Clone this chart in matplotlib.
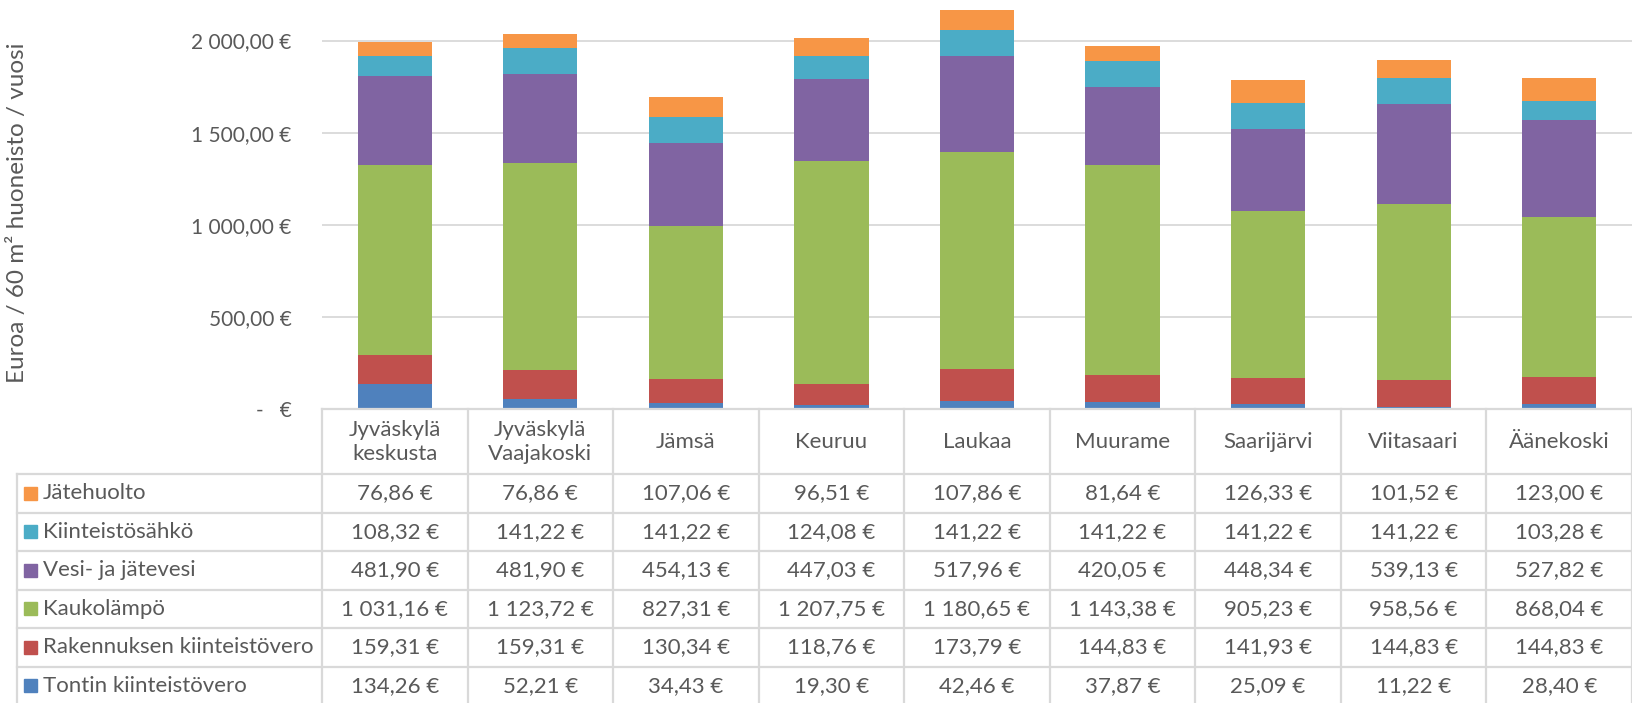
import matplotlib
matplotlib.use("Agg")
import matplotlib.pyplot as plt
from matplotlib.patches import Rectangle

plt.rcParams['font.family'] = ['Lato', 'DejaVu Sans']

categories = ["Jyväskylä\nkeskusta", "Jyväskylä\nVaajakoski", "Jämsä", "Keuruu", "Laukaa",
              "Muurame", "Saarijärvi", "Viitasaari", "Äänekoski"]
tontin = [134.26, 52.21, 34.43, 19.30, 42.46, 37.87, 25.09, 11.22, 28.40]
rakennuksen = [159.31, 159.31, 130.34, 118.76, 173.79, 144.83, 141.93, 144.83, 144.83]
kaukolampo = [1031.16, 1123.72, 827.31, 1207.75, 1180.65, 1143.38, 905.23, 958.56, 868.04]
vesi = [481.90, 481.90, 454.13, 447.03, 517.96, 420.05, 448.34, 539.13, 527.82]
sahko = [108.32, 141.22, 141.22, 124.08, 141.22, 141.22, 141.22, 141.22, 103.28]
jate = [76.86, 76.86, 107.06, 96.51, 107.86, 81.64, 126.33, 101.52, 123.00]

series_names = ["Tontin kiinteistövero", "Rakennuksen kiinteistövero", "Kaukolämpö",
                "Vesi- ja jätevesi", "Kiinteistösähkö", "Jätehuolto"]
series_vals = [tontin, rakennuksen, kaukolampo, vesi, sahko, jate]
colors = ["#4F81BD", "#C0504D", "#9BBB59", "#8064A2", "#4BACC6", "#F79646"]
yticks = [0, 500, 1000, 1500, 2000]
ytick_labels = ["-   €", "500,00 €", "1 000,00 €", "1 500,00 €", "2 000,00 €"]
ylabel = "Euroa / 60 m² huoneisto / vuosi"

TXT = "#595959"
GRID = "#D9D9D9"


def fmt(v):
    s = f"{v:,.2f}"
    s = s.replace(",", " ").replace(".", ",")
    return s + " €"


W, H = 1633, 703
fig = plt.figure(figsize=(W / 100, H / 100), dpi=100)

x0, x1 = 322, 1632
y_zero = 409
ax = fig.add_axes([x0 / W, (H - y_zero) / H, (x1 - x0) / W, y_zero / H])
n = len(categories)
xs = list(range(n))
bottom = [0.0] * n
for vals, c in zip(series_vals, colors):
    ax.bar(xs, vals, bottom=bottom, width=0.51, color=c, edgecolor="none", zorder=3)
    bottom = [b + v for b, v in zip(bottom, vals)]
ax.set_xlim(-0.5, n - 0.5)
ax.set_ylim(0, 2220)
ax.set_yticks(yticks)
ax.set_yticklabels(ytick_labels, fontsize=15, color=TXT)
ax.tick_params(axis="y", length=0, pad=22)
ax.set_xticks([])
for s in ax.spines.values():
    s.set_visible(False)
for t in yticks[1:]:
    ax.axhline(t, color=GRID, lw=1.3, zorder=1)
ax.patch.set_visible(False)

fig.text(18 / W, 1 - 213 / H, ylabel, rotation=90, ha="center", va="center",
         fontsize=17.5, color=TXT)

# table overlay in pixel coordinates
tax = fig.add_axes([0, 0, 1, 1])
tax.set_xlim(0, W)
tax.set_ylim(H, 0)
tax.axis("off")
tax.patch.set_visible(False)

colw = (x1 - x0) / n
header_bottom = 474
rowh = 38.5
tleft = 17
nrows = len(series_names)
tbottom = header_bottom + nrows * rowh
lc = dict(color=GRID, lw=1.6)

tax.plot([x0, x1], [y_zero, y_zero], **lc)
for i in range(n + 1):
    xx = x0 + i * colw
    tax.plot([xx, xx], [y_zero, tbottom], **lc)
tax.plot([tleft, tleft], [header_bottom, tbottom], **lc)
for r in range(nrows + 1):
    yy = header_bottom + r * rowh
    tax.plot([tleft, x1], [yy, yy], **lc)

for i, cat in enumerate(categories):
    tax.text(x0 + (i + 0.5) * colw, (y_zero + header_bottom) / 2 + 1, cat,
             ha="center", va="center", fontsize=16, color=TXT, linespacing=1.25)

# rows: top row is the last series
for r in range(nrows):
    si = nrows - 1 - r
    yc = header_bottom + (r + 0.5) * rowh
    tax.add_patch(Rectangle((24.5, yc - 6.5), 13, 13, color=colors[si]))
    tax.text(43, yc, series_names[si], ha="left", va="center", fontsize=16, color=TXT)
    for i in range(n):
        tax.text(x0 + (i + 0.5) * colw, yc, fmt(series_vals[si][i]),
                 ha="center", va="center", fontsize=16, color=TXT)

fig.savefig("out.png", dpi=100)
